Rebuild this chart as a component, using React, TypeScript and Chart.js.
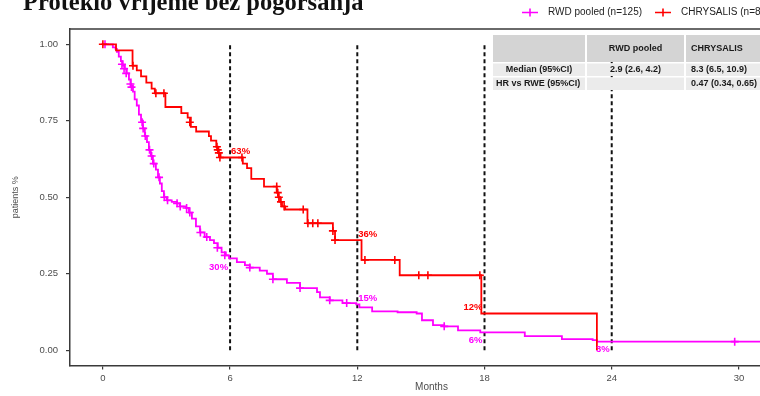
import React, { useEffect, useRef } from 'react';
import { Chart, registerables } from 'chart.js';

Chart.register(...registerables);

// ---------- data ----------
const titleText = 'Proteklo vrijeme bez pogoršanja';
const seriesNames = ['RWD pooled (n=125)', 'CHRYSALIS (n=81)'];

// RWD pooled (magenta) Kaplan-Meier steps: month of step, survival after step
const rwdTimes = [0, 0.47, 0.6, 0.66, 0.75, 0.85, 0.94, 1.04, 1.13, 1.23, 1.32, 1.42, 1.5, 1.6, 1.7, 1.8, 1.89, 1.98, 2.08, 2.17, 2.26, 2.36, 2.5, 2.6, 2.69, 2.78, 2.88, 3.02, 3.25, 3.49, 3.63, 3.92, 4.06, 4.2, 4.39, 4.58, 4.8, 5.05, 5.24, 5.42, 5.6, 5.8, 5.95, 6.32, 6.7, 6.93, 7.4, 7.74, 8.02, 8.68, 9.3, 10.1, 10.24, 10.7, 11.3, 11.95, 12.1, 12.7, 13.9, 14.8, 15.05, 15.57, 16.1, 16.75, 17.8, 19.9, 21.65, 23.1, 23.3, 31.0];
const rwdSurv = [1.0, 0.99, 0.985, 0.975, 0.96, 0.945, 0.93, 0.92, 0.905, 0.885, 0.865, 0.845, 0.82, 0.8, 0.77, 0.75, 0.725, 0.7, 0.68, 0.655, 0.635, 0.61, 0.59, 0.565, 0.545, 0.52, 0.5, 0.49, 0.485, 0.48, 0.47, 0.465, 0.45, 0.43, 0.405, 0.385, 0.37, 0.36, 0.35, 0.335, 0.32, 0.31, 0.3, 0.288, 0.278, 0.27, 0.26, 0.25, 0.232, 0.22, 0.203, 0.19, 0.173, 0.163, 0.154, 0.15, 0.14, 0.127, 0.124, 0.12, 0.098, 0.082, 0.078, 0.065, 0.058, 0.046, 0.036, 0.033, 0.028, 0.028];
const rwdCensorTimes = [0.1, 0.9, 1.0, 1.1, 1.3, 1.35, 1.85, 1.9, 2.0, 2.2, 2.3, 2.4, 2.65, 2.9, 3.05, 3.5, 3.65, 3.95, 4.1, 4.6, 4.9, 5.4, 5.75, 6.93, 8.02, 9.3, 10.7, 11.5, 16.1, 29.8];
const rwdCensorSurv = [1.0, 0.935, 0.92, 0.905, 0.87, 0.86, 0.745, 0.725, 0.7, 0.655, 0.635, 0.61, 0.565, 0.5, 0.49, 0.48, 0.47, 0.465, 0.45, 0.385, 0.37, 0.335, 0.31, 0.27, 0.232, 0.203, 0.163, 0.154, 0.078, 0.028];

// CHRYSALIS (red) Kaplan-Meier steps
const chrTimes = [0, 0.62, 1.4, 1.6, 1.8, 2.05, 2.3, 2.45, 2.95, 3.7, 4.0, 4.15, 4.4, 5.0, 5.1, 5.35, 5.45, 5.55, 6.6, 6.8, 7.0, 7.6, 8.2, 8.28, 8.36, 8.45, 8.6, 9.65, 10.85, 10.95, 12.2, 14.0, 17.85, 23.3];
const chrSurv = [1.0, 0.98, 0.93, 0.915, 0.895, 0.875, 0.855, 0.84, 0.795, 0.775, 0.76, 0.73, 0.715, 0.7, 0.685, 0.665, 0.645, 0.63, 0.61, 0.595, 0.56, 0.535, 0.515, 0.5, 0.485, 0.47, 0.46, 0.415, 0.39, 0.36, 0.295, 0.245, 0.12, 0.0];
const chrCensorTimes = [0.0, 1.42, 2.5, 2.88, 4.1, 5.38, 5.42, 5.47, 5.52, 6.56, 8.2, 8.25, 8.3, 8.4, 8.55, 9.45, 9.67, 9.9, 10.14, 10.85, 10.95, 12.36, 13.77, 14.9, 15.33, 17.78];
const chrCensorSurv = [1.0, 0.93, 0.84, 0.84, 0.745, 0.665, 0.655, 0.645, 0.63, 0.63, 0.535, 0.515, 0.5, 0.485, 0.47, 0.46, 0.415, 0.415, 0.415, 0.39, 0.36, 0.295, 0.295, 0.245, 0.245, 0.245];

const landmarkMonths = [6, 12, 18, 24];
const xTicks = [0, 6, 12, 18, 24, 30];
const yTicks = [0, 0.25, 0.5, 0.75, 1];

const rwdLabelMonths = [6, 12, 18, 24];
const rwdLabelValues = [0.3, 0.15, 0.06, 0.03];
const rwdLabelTexts = ['30%', '15%', '6%', '3%'];
const chrLabelMonths = [6, 12, 18];
const chrLabelValues = [0.63, 0.36, 0.12];
const chrLabelTexts = ['63%', '36%', '12%'];

const tableHeader = ['', 'RWD pooled', 'CHRYSALIS'];
const tableRowLabels = ['Median (95%CI)', 'HR vs RWE (95%CI)'];
const tableRwd = ['2.9 (2.6, 4.2)', ''];
const tableChr = ['8.3 (6.5, 10.9)', '0.47 (0.34, 0.65)'];

// ---------- styles ----------
const MAGENTA = '#ff00ff';
const RED = '#ff0000';
const AXIS = '#3a3a3a';
const TEXT = '#4d4d4d';
const SANS = '"Liberation Sans", Arial, sans-serif';
// placement: side (left/right of line), vertical (above/below value)
const rwdLabelPlace = [['L', 'below'], ['R', 'above'], ['L', 'below'], ['L', 'below']];
const chrLabelPlace = [['R', 'above'], ['R', 'above'], ['L', 'above']];

const decor = {
  id: 'kmDecor',
  beforeDraw(chart: any) {
    const { ctx, width, height } = chart;
    ctx.save();
    ctx.fillStyle = '#ffffff';
    ctx.fillRect(0, 0, width, height);
    ctx.restore();
  },
  afterDatasetsDraw(chart: any) {
    const { ctx, chartArea, scales } = chart;
    const xs = scales.x;
    const ys = scales.y;
    ctx.save();
    // panel border (top / right)
    ctx.strokeStyle = AXIS;
    ctx.lineWidth = 1.5;
    ctx.beginPath();
    ctx.moveTo(chartArea.left, chartArea.top);
    ctx.lineTo(chartArea.right, chartArea.top);
    ctx.lineTo(chartArea.right, chartArea.bottom);
    ctx.stroke();

    ctx.font = `bold 9.5px ${SANS}`;
    const drawLabels = (months: number[], vals: number[], texts: string[], place: string[][], color: string) => {
      ctx.fillStyle = color;
      months.forEach((m, i) => {
        const px = xs.getPixelForValue(m);
        const py = ys.getPixelForValue(vals[i]);
        const [side, vert] = place[i];
        ctx.textAlign = side === 'R' ? 'left' : 'right';
        const dx = side === 'R' ? 1 : -2;
        if (vert === 'above') {
          ctx.textBaseline = 'bottom';
          ctx.fillText(texts[i], px + dx, py - 1);
        } else {
          ctx.textBaseline = 'top';
          ctx.fillText(texts[i], px + dx, py + 4);
        }
      });
    };
    drawLabels(rwdLabelMonths, rwdLabelValues, rwdLabelTexts, rwdLabelPlace, MAGENTA);
    drawLabels(chrLabelMonths, chrLabelValues, chrLabelTexts, chrLabelPlace, RED);
    ctx.restore();
  },
  afterDraw(chart: any) {
    const { ctx } = chart;
    ctx.save();
    // title (partly cut off at the top as in the source)
    ctx.fillStyle = '#111';
    ctx.font = 'bold 24.5px "Liberation Serif", "Times New Roman", serif';
    ctx.textAlign = 'left';
    ctx.textBaseline = 'alphabetic';
    ctx.fillText(titleText, 23, 10);

    // legend
    const colors = [MAGENTA, RED];
    const keyX = [530, 663];
    ctx.font = `10px ${SANS}`;
    ctx.textBaseline = 'middle';
    seriesNames.forEach((name, i) => {
      const cx = keyX[i];
      const cy = 12.5;
      ctx.strokeStyle = colors[i];
      ctx.lineWidth = 1.6;
      ctx.beginPath();
      ctx.moveTo(cx - 8, cy);
      ctx.lineTo(cx + 8, cy);
      ctx.moveTo(cx, cy - 4);
      ctx.lineTo(cx, cy + 4);
      ctx.stroke();
      ctx.fillStyle = '#222';
      ctx.fillText(name, cx + 18, cy);
    });

    // table
    const colX = [493, 587, 686];
    const colW = [92, 97, 200];
    const rowY = [35, 63.5, 77.5];
    const rowH = [27, 12.5, 12.5];
    for (let r = 0; r < 3; r++) {
      for (let c = 0; c < 3; c++) {
        ctx.fillStyle = r === 0 ? '#d4d4d4' : '#ebebeb';
        ctx.fillRect(colX[c], rowY[r], colW[c], rowH[r]);
      }
    }
    ctx.fillStyle = '#1a1a1a';
    ctx.font = `bold 9px ${SANS}`;
    ctx.textBaseline = 'middle';
    ctx.textAlign = 'center';
    ctx.fillText(tableHeader[1], colX[1] + colW[1] / 2, 49);
    ctx.textAlign = 'left';
    ctx.fillText(tableHeader[2], 691, 49);
    const rowCy = [70, 84];
    tableRowLabels.forEach((lab, i) => {
      if (i === 0) {
        ctx.textAlign = 'center';
        ctx.fillText(lab, colX[0] + colW[0] / 2, rowCy[i]);
      } else {
        ctx.textAlign = 'left';
        ctx.fillText(lab, 496, rowCy[i]);
      }
      ctx.textAlign = 'center';
      if (tableRwd[i]) ctx.fillText(tableRwd[i], colX[1] + colW[1] / 2, rowCy[i]);
      ctx.textAlign = 'left';
      if (tableChr[i]) ctx.fillText(tableChr[i], 691, rowCy[i]);
    });
    ctx.restore();
  },
};

export default function App() {
  const ref = useRef<HTMLCanvasElement | null>(null);

  useEffect(() => {
    if (!ref.current) return;
    const rwdLine = rwdTimes.map((t, i) => ({ x: t, y: rwdSurv[i] }));
    const chrLine = chrTimes.map((t, i) => ({ x: t, y: chrSurv[i] }));
    const rwdCens = rwdCensorTimes.map((t, i) => ({ x: t, y: rwdCensorSurv[i] }));
    const chrCens = chrCensorTimes.map((t, i) => ({ x: t, y: chrCensorSurv[i] }));

    const landmarkSets = landmarkMonths.map((m) => ({
      label: `landmark ${m}`,
      data: [{ x: m, y: 0 }, { x: m, y: 1 }],
      borderColor: '#111',
      borderWidth: 2,
      borderDash: [4, 3],
      pointRadius: 0,
      showLine: true,
      fill: false,
    }));

    const chart = new Chart(ref.current, {
      type: 'line',
      data: {
        datasets: [
          { label: seriesNames[1] + ' censored', data: chrCens, showLine: false, pointStyle: 'cross', pointRadius: 4, pointBorderWidth: 1.6, borderColor: RED, backgroundColor: RED },
          { label: seriesNames[1], data: chrLine, stepped: 'before', borderColor: RED, borderWidth: 1.8, pointRadius: 0, fill: false },
          { label: seriesNames[0] + ' censored', data: rwdCens, showLine: false, pointStyle: 'cross', pointRadius: 4, pointBorderWidth: 1.6, borderColor: MAGENTA, backgroundColor: MAGENTA },
          { label: seriesNames[0], data: rwdLine, stepped: 'before', borderColor: MAGENTA, borderWidth: 1.8, pointRadius: 0, fill: false },
          ...landmarkSets,
        ] as any,
      },
      options: {
        animation: false,
        responsive: false,
        maintainAspectRatio: false,
        layout: { padding: { left: 0, right: 27, top: 29, bottom: 0 } },
        plugins: { legend: { display: false }, tooltip: { enabled: false }, title: { display: false } },
        scales: {
          x: {
            type: 'linear',
            min: -1.55,
            max: 32.55,
            afterBuildTicks: (s: any) => { s.ticks = xTicks.map((v) => ({ value: v })); },
            afterFit: (s: any) => { s.height = 30.5; },
            grid: { drawOnChartArea: false, drawTicks: true, tickLength: 4, color: AXIS, lineWidth: 1.2 },
            border: { display: true, color: AXIS, width: 1.5 },
            ticks: { color: TEXT, font: { family: SANS, size: 9.5 }, padding: 3, maxRotation: 0, callback: (v: any) => String(v) },
            title: { display: true, text: 'Months', color: TEXT, font: { family: SANS, size: 10 }, padding: { top: 0, bottom: 2.5 } },
          },
          y: {
            type: 'linear',
            min: -0.05,
            max: 1.05,
            afterBuildTicks: (s: any) => { s.ticks = yTicks.map((v) => ({ value: v })); },
            afterFit: (s: any) => { s.width = 70; },
            grid: { drawOnChartArea: false, drawTicks: true, tickLength: 4, color: AXIS, lineWidth: 1.2 },
            border: { display: true, color: AXIS, width: 1.5 },
            ticks: { color: TEXT, font: { family: SANS, size: 9.5 }, padding: 8, callback: (v: any) => Number(v).toFixed(2) },
            title: { display: true, text: 'patients %', color: TEXT, font: { family: SANS, size: 9 }, padding: { top: 10, bottom: 0 } },
          },
        },
      } as any,
      plugins: [decor],
    });
    return () => chart.destroy();
  }, []);

  return (
    <div style={{ position: 'fixed', left: 0, top: 0, width: 760, height: 396, overflow: 'hidden', background: '#fff' }}>
      <canvas ref={ref} width={820} height={396} style={{ display: 'block', width: 820, height: 396 }} />
    </div>
  );
}
